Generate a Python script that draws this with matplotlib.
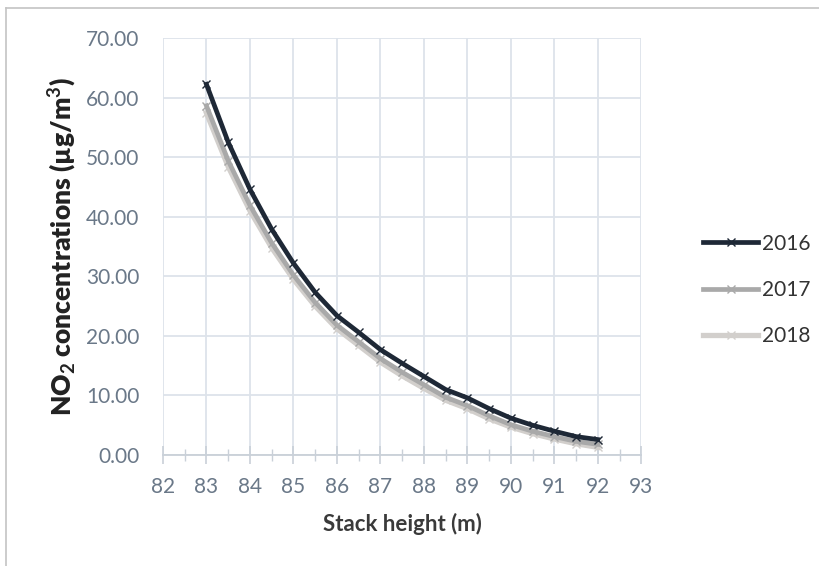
import matplotlib
matplotlib.use("Agg")
import matplotlib.pyplot as plt
from matplotlib.lines import Line2D
from matplotlib.ticker import MultipleLocator, FormatStrFormatter

stack_height = [83.0, 83.5, 84.0, 84.5, 85.0, 85.5, 86.0, 86.5, 87.0, 87.5,
                88.0, 88.5, 89.0, 89.5, 90.0, 90.5, 91.0, 91.5, 92.0]
no2_2016 = [62.2, 52.5, 44.6, 37.9, 32.2, 27.3, 23.4, 20.6, 17.7, 15.4,
            13.2, 11.0, 9.6, 7.8, 6.2, 5.0, 4.0, 3.1, 2.6]
no2_2017 = [58.6, 49.4, 41.9, 35.6, 30.2, 25.6, 21.8, 19.0, 16.2, 13.9,
            11.8, 9.7, 8.3, 6.6, 5.1, 4.0, 3.1, 2.3, 1.8]
no2_2018 = [57.4, 48.4, 41.0, 34.8, 29.5, 25.0, 21.2, 18.4, 15.6, 13.3,
            11.2, 9.2, 7.8, 6.1, 4.7, 3.6, 2.7, 1.9, 1.3]
series_labels = ["2016", "2017", "2018"]

plt.rcParams["font.family"] = ["Lato", "DejaVu Sans"]
plt.rcParams["mathtext.fontset"] = "custom"
plt.rcParams["mathtext.rm"] = "Lato:bold"
plt.rcParams["mathtext.default"] = "rm"

fig = plt.figure(figsize=(8.19, 5.66), dpi=100)
# thin frame along the left and top edges
fig.add_artist(Line2D([0.0073, 0.0073], [0.0, 0.986], transform=fig.transFigure,
                      color="#c4c4c4", lw=1.2))
fig.add_artist(Line2D([0.0073, 1.0], [0.986, 0.986], transform=fig.transFigure,
                      color="#c4c4c4", lw=1.2))

ax = fig.add_axes([0.199, 0.196, 0.584, 0.737])

styles = [
    dict(color="#1e2836", lw=3.4, zorder=5),
    dict(color="#a9a9a9", lw=3.4, zorder=4),
    dict(color="#d2cfcc", lw=3.8, zorder=3),
]
for ys, lab, st in zip([no2_2016, no2_2017, no2_2018], series_labels, styles):
    ax.plot(stack_height, ys, label=lab, marker="x", markersize=6,
            markeredgewidth=1.0, **st)

ax.set_xlim(82, 93)
ax.set_ylim(0, 70)
ax.xaxis.set_major_locator(MultipleLocator(1))
ax.xaxis.set_minor_locator(MultipleLocator(0.5))
ax.yaxis.set_major_locator(MultipleLocator(10))
ax.yaxis.set_major_formatter(FormatStrFormatter("%.2f"))

ax.grid(True, which="major", color="#dde3ea", linewidth=1.3)
ax.set_axisbelow(True)
for side in ["top", "right", "left"]:
    ax.spines[side].set_visible(False)
ax.spines["bottom"].set_color("#c9d0d8")
ax.spines["bottom"].set_linewidth(1.3)

tick_color = "#6a7888"
ax.tick_params(axis="x", which="major", direction="inout", length=13, width=1.2,
               color="#c9d0d8", labelsize=15, labelcolor=tick_color, pad=9)
ax.tick_params(axis="x", which="minor", direction="inout", length=8, width=1.0,
               color="#c9d0d8")
ax.tick_params(axis="y", which="major", length=0, labelsize=15,
               labelcolor=tick_color, pad=17)

ax.set_xlabel("Stack height (m)", fontsize=16, fontweight="bold",
              color="#3a3a3a", labelpad=12)
ax.set_ylabel("NO$_2$ concentrations (µg/m$^3$)", fontsize=19, fontweight="heavy",
              color="#222222", labelpad=5)

leg = fig.legend(loc="center left", bbox_to_anchor=(0.836, 0.488), frameon=False,
                 fontsize=15, handlelength=2.6, handletextpad=0.2, labelspacing=1.25)
for t in leg.get_texts():
    t.set_color("#333333")

fig.savefig("out.png", dpi=100)
